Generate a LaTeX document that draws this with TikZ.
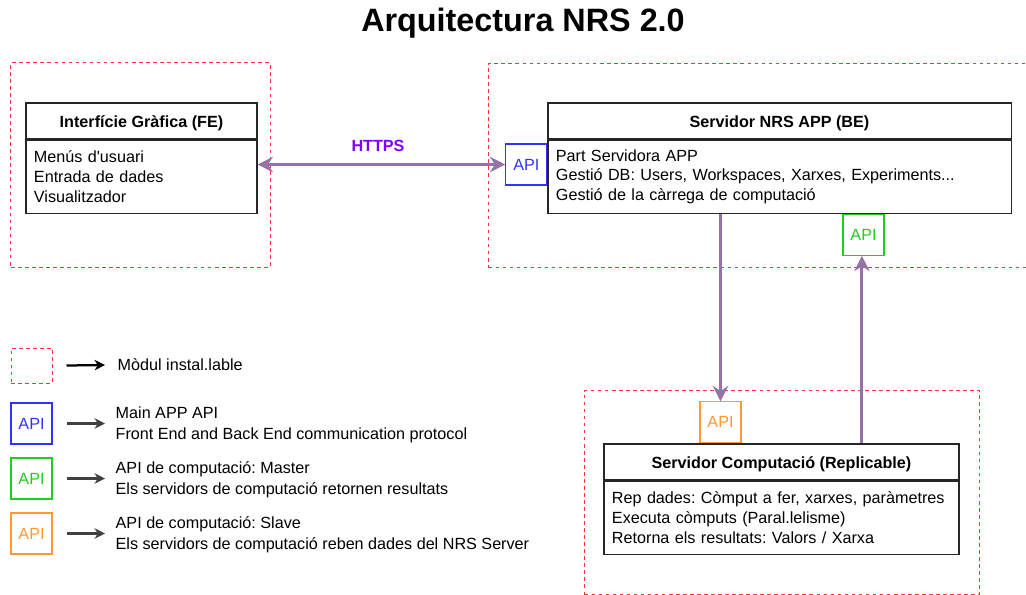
\documentclass[tikz,border=0pt]{standalone}
\usepackage{fontspec}
\setmainfont{Liberation Sans}
\frenchspacing
\usetikzlibrary{arrows.meta, calc, positioning}
\definecolor{modred}{HTML}{FF3333}
\definecolor{apiblue}{HTML}{3333FF}
\definecolor{apigreen}{HTML}{22CC22}
\definecolor{apiorange}{HTML}{FF9933}
\definecolor{linkpurple}{HTML}{9673A6}
\definecolor{httpsviolet}{HTML}{7F00FF}
\tikzset{
    module/.style = {draw=modred, line width=0.7pt, dash pattern=on 2.6pt off 2.4pt, inner sep=0pt},
    headbox/.style = {draw=black!85, line width=0.8pt, font=\fontsize{11.5}{13}\selectfont\bfseries,
        minimum height=0.9cm, inner sep=0pt, text height=9.6pt, text depth=0pt},
    bodybox/.style = {draw=black!85, line width=0.8pt, font=\fontsize{11.5}{13.9}\selectfont,
        align=left, inner xsep=0.2cm, inner ysep=0pt, minimum height=1.825cm},
    apibox/.style = {draw=#1, text=#1, line width=0.8pt, font=\fontsize{11.5}{13}\selectfont,
        minimum width=1.025cm, minimum height=1.025cm, inner sep=0pt, fill=white},
    link/.style = {draw=linkpurple, line width=2.2pt, -{Stealth[length=3.8mm, width=3.8mm, inset=1.2mm]}},
    legarrow/.style = {draw=#1, line width=1.6pt, -{Stealth[length=2.6mm, width=2.6mm, inset=0.8mm]}},
    legtext/.style = {anchor=west, align=left, inner sep=0pt, font=\fontsize{11.5}{15}\selectfont},
}

\begin{document}
\begin{tikzpicture}[x=0.025cm, y=-0.025cm, line width=1pt]
\useasboundingbox (0,0) rectangle (1026,594);

\node[font=\fontsize{23}{26}\selectfont\bfseries] (title) at (523,23) {Arquitectura NRS 2.0};

% installable modules
\node[module, minimum width=6.475cm, minimum height=5.1cm] (femod) at (140.5,165) {};
\node[module, minimum width=14cm, minimum height=5.1cm, anchor=north west] (bemod) at (488,63) {};
\node[module, minimum width=9.875cm, minimum height=5.1cm, anchor=north west] (compmod) at (584,390) {};

% front end
\node[headbox, minimum width=5.775cm] (fehead) at (141.5,121) {Interfície Gràfica (FE)};
\node[bodybox, text width=5.375cm, below=0pt of fehead] (febody)
    {Menús d\textquotesingle usuari\\Entrada de dades\\Visualitzador};

% back end
\node[headbox, minimum width=11.575cm] (behead) at (779.5,121) {Servidor NRS APP (BE)};
\node[bodybox, text width=11.175cm, below=0pt of behead] (bebody)
    {Part Servidora APP\\Gestió DB: Users, Workspaces, Xarxes, Experiments...\\Gestió de la càrrega de computació};

% computation server
\node[headbox, minimum width=8.875cm] (comphead) at (781.5,462) {Servidor Computació (Replicable)};
\node[bodybox, text width=8.475cm, below=0pt of comphead] (compbody)
    {Rep dades: Còmput a fer, xarxes, paràmetres\\Executa còmputs (Paral.lelisme)\\Retorna els resultats: Valors / Xarxa};

% api ports
\node[apibox=apiblue, anchor=east] (apimain) at (bebody.west |- 0,164.5) {API};
\node[apibox=apigreen, anchor=north] (apimaster) at (bebody.south -| 863.5,0) {API};
\node[apibox=apiorange, anchor=south] (apislave) at (comphead.north -| 720.5,0) {API};

% links
\draw[link, {Stealth[length=3.8mm, width=3.8mm, inset=1.2mm]}-{Stealth[length=3.8mm, width=3.8mm, inset=1.2mm]}]
    (febody.east |- apimain.west) -- (apimain.west);
\node[font=\fontsize{11.5}{13}\selectfont\bfseries, text=httpsviolet] (https) at (378,146) {HTTPS};
\draw[link] (apislave.north |- bebody.south) -- (apislave.north);
\draw[link] ([xshift=-0.04cm]apimaster.south |- comphead.north) -- ([xshift=-0.04cm]apimaster.south);

% legend
\node[module, minimum width=1.025cm, minimum height=0.875cm] (legmod) at (31.5,365.5) {};
\node[legtext] (legmodtxt) at (117,365) {Mòdul instal.lable};
\draw[legarrow=black] ([xshift=0.35cm]legmod.east) -- ([xshift=-0.3cm]legmodtxt.west);

\node[apibox=apiblue] (legmain) at (31.5,423.5) {API};
\node[legtext] (legmaintxt) at (115,425) {Main APP API\\Front End and Back End communication protocol};
\draw[legarrow=black!75] ([xshift=0.35cm]legmain.east) -- ([xshift=-0.25cm]legmain.east -| legmaintxt.west);

\node[apibox=apigreen] (legmaster) at (31.5,478.5) {API};
\node[legtext] (legmastertxt) at (115,480) {API de computació: Master\\Els servidors de computació retornen resultats};
\draw[legarrow=black!75] ([xshift=0.35cm]legmaster.east) -- ([xshift=-0.25cm]legmaster.east -| legmastertxt.west);

\node[apibox=apiorange] (legslave) at (31.5,533.5) {API};
\node[legtext] (legslavetxt) at (115,535) {API de computació: Slave\\Els servidors de computació reben dades del NRS Server};
\draw[legarrow=black!75] ([xshift=0.35cm]legslave.east) -- ([xshift=-0.25cm]legslave.east -| legslavetxt.west);
\end{tikzpicture}
\end{document}
